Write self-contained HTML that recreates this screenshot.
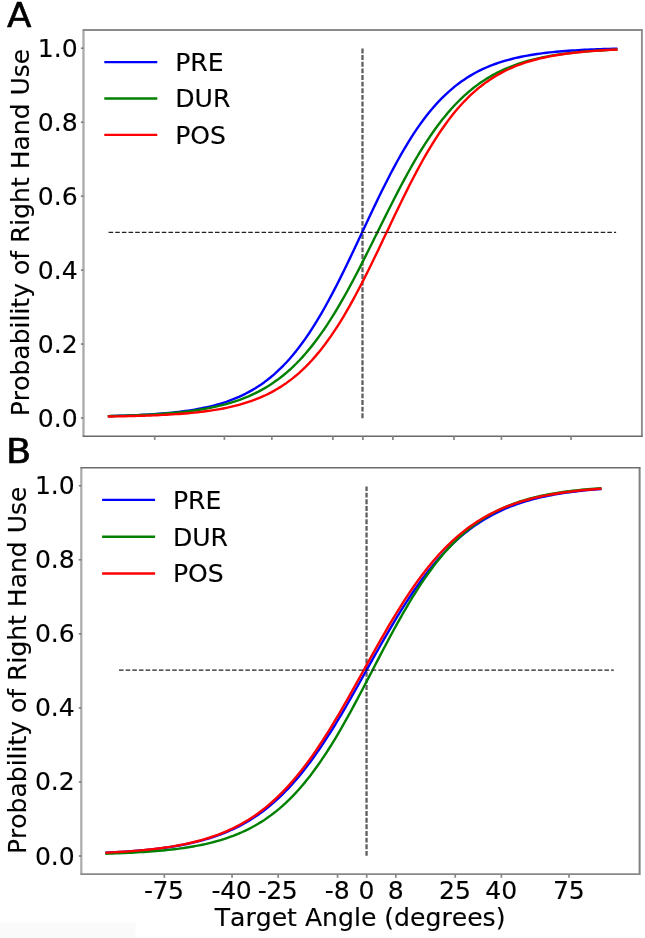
<!DOCTYPE html>
<html lang="en"><head><meta charset="utf-8"><title>Probability of Right Hand Use</title>
<style>
html,body{margin:0;padding:0;background:#fff;}
body{width:645px;height:938px;overflow:hidden;}
svg{display:block;}
.t{filter:grayscale(1);}
svg text{font-family:'DejaVu Sans','Liberation Sans',sans-serif;font-kerning:none;fill:#000;stroke:#000;stroke-width:0.15px;stroke-linejoin:round;}
</style></head><body>
<svg width="645" height="938" viewBox="0 0 645 938">
<rect x="0" y="0" width="645" height="938" fill="#fff"/>
<rect x="0" y="922.5" width="135.5" height="15.5" fill="#fafafa"/>
<line x1="362.50" y1="418.20" x2="362.50" y2="48.60" stroke="#5e5e5e" stroke-width="2.3" stroke-dasharray="4.9 1.733"/>
<polyline points="109.00,416.08 112.17,416.00 115.34,415.92 118.51,415.82 121.68,415.72 124.85,415.62 128.02,415.50 131.19,415.37 134.37,415.24 137.54,415.10 140.71,414.94 143.88,414.77 147.05,414.60 150.22,414.40 153.39,414.20 156.56,413.97 159.73,413.73 162.90,413.48 166.07,413.20 169.24,412.90 172.41,412.59 175.58,412.24 178.75,411.88 181.92,411.48 185.09,411.06 188.27,410.60 191.44,410.11 194.61,409.59 197.78,409.03 200.95,408.43 204.12,407.78 207.29,407.09 210.46,406.35 213.63,405.55 216.80,404.70 219.97,403.79 223.14,402.81 226.31,401.77 229.48,400.65 232.65,399.46 235.82,398.18 239.00,396.82 242.17,395.36 245.34,393.81 248.51,392.16 251.68,390.40 254.85,388.52 258.02,386.53 261.19,384.41 264.36,382.16 267.53,379.77 270.70,377.23 273.87,374.55 277.04,371.71 280.21,368.71 283.38,365.54 286.55,362.21 289.73,358.69 292.90,355.00 296.07,351.12 299.24,347.05 302.41,342.80 305.58,338.35 308.75,333.72 311.92,328.89 315.09,323.88 318.26,318.68 321.43,313.30 324.60,307.75 327.77,302.03 330.94,296.14 334.11,290.11 337.28,283.94 340.46,277.64 343.63,271.22 346.80,264.71 349.97,258.11 353.14,251.45 356.31,244.73 359.48,237.98 362.65,231.22 365.82,224.46 368.99,217.72 372.16,211.02 375.33,204.38 378.50,197.81 381.67,191.33 384.84,184.95 388.01,178.69 391.19,172.57 394.36,166.59 397.53,160.76 400.70,155.09 403.87,149.60 407.04,144.28 410.21,139.15 413.38,134.20 416.55,129.44 419.72,124.87 422.89,120.49 426.06,116.31 429.23,112.31 432.40,108.49 435.57,104.86 438.75,101.41 441.92,98.13 445.09,95.02 448.26,92.08 451.43,89.30 454.60,86.67 457.77,84.18 460.94,81.84 464.11,79.64 467.28,77.56 470.45,75.61 473.62,73.77 476.79,72.05 479.96,70.43 483.13,68.92 486.30,67.50 489.47,66.16 492.65,64.92 495.82,63.75 498.99,62.66 502.16,61.64 505.33,60.69 508.50,59.80 511.67,58.97 514.84,58.19 518.01,57.47 521.18,56.79 524.35,56.16 527.52,55.57 530.69,55.02 533.86,54.51 537.03,54.04 540.20,53.59 543.38,53.18 546.55,52.79 549.72,52.43 552.89,52.10 556.06,51.79 559.23,51.50 562.40,51.23 565.57,50.98 568.74,50.75 571.91,50.53 575.08,50.33 578.25,50.14 581.42,49.97 584.59,49.80 587.76,49.65 590.93,49.51 594.11,49.38 597.28,49.26 600.45,49.15 603.62,49.04 606.79,48.94 609.96,48.85 613.13,48.77 616.30,48.69" fill="none" stroke="#0000ff" stroke-width="2.40" stroke-linecap="square" stroke-linejoin="round"/>
<polyline points="109.00,416.11 112.17,416.03 115.34,415.95 118.51,415.87 121.68,415.78 124.85,415.68 128.02,415.57 131.19,415.46 134.37,415.34 137.54,415.21 140.71,415.07 143.88,414.92 147.05,414.77 150.22,414.60 153.39,414.41 156.56,414.22 159.73,414.01 162.90,413.79 166.07,413.55 169.24,413.29 172.41,413.02 175.58,412.72 178.75,412.41 181.92,412.08 185.09,411.72 188.27,411.33 191.44,410.92 194.61,410.48 197.78,410.01 200.95,409.51 204.12,408.98 207.29,408.40 210.46,407.79 213.63,407.14 216.80,406.44 219.97,405.69 223.14,404.90 226.31,404.05 229.48,403.14 232.65,402.18 235.82,401.15 239.00,400.06 242.17,398.89 245.34,397.65 248.51,396.33 251.68,394.92 254.85,393.43 258.02,391.84 261.19,390.16 264.36,388.37 267.53,386.48 270.70,384.47 273.87,382.34 277.04,380.09 280.21,377.72 283.38,375.21 286.55,372.56 289.73,369.77 292.90,366.83 296.07,363.74 299.24,360.49 302.41,357.09 305.58,353.52 308.75,349.78 311.92,345.88 315.09,341.81 318.26,337.56 321.43,333.15 324.60,328.56 327.77,323.81 330.94,318.89 334.11,313.81 337.28,308.57 340.46,303.18 343.63,297.64 346.80,291.97 349.97,286.17 353.14,280.25 356.31,274.22 359.48,268.10 362.65,261.89 365.82,255.62 368.99,249.29 372.16,242.92 375.33,236.53 378.50,230.12 381.67,223.72 384.84,217.35 388.01,211.00 391.19,204.71 394.36,198.49 397.53,192.34 400.70,186.28 403.87,180.33 407.04,174.50 410.21,168.78 413.38,163.21 416.55,157.77 419.72,152.49 422.89,147.36 426.06,142.40 429.23,137.59 432.40,132.96 435.57,128.50 438.75,124.20 441.92,120.08 445.09,116.13 448.26,112.34 451.43,108.73 454.60,105.27 457.77,101.98 460.94,98.85 464.11,95.86 467.28,93.03 470.45,90.34 473.62,87.79 476.79,85.38 479.96,83.09 483.13,80.93 486.30,78.89 489.47,76.97 492.65,75.15 495.82,73.43 498.99,71.82 502.16,70.30 505.33,68.87 508.50,67.53 511.67,66.26 514.84,65.07 518.01,63.96 521.18,62.91 524.35,61.93 527.52,61.01 530.69,60.14 533.86,59.33 537.03,58.57 540.20,57.86 543.38,57.19 546.55,56.57 549.72,55.99 552.89,55.44 556.06,54.93 559.23,54.45 562.40,54.00 565.57,53.58 568.74,53.19 571.91,52.83 575.08,52.48 578.25,52.16 581.42,51.86 584.59,51.59 587.76,51.32 590.93,51.08 594.11,50.85 597.28,50.64 600.45,50.44 603.62,50.26 606.79,50.08 609.96,49.92 613.13,49.77 616.30,49.63" fill="none" stroke="#008000" stroke-width="2.40" stroke-linecap="square" stroke-linejoin="round"/>
<polyline points="109.00,416.49 112.17,416.44 115.34,416.39 118.51,416.33 121.68,416.27 124.85,416.21 128.02,416.14 131.19,416.06 134.37,415.98 137.54,415.89 140.71,415.80 143.88,415.70 147.05,415.59 150.22,415.47 153.39,415.35 156.56,415.21 159.73,415.07 162.90,414.91 166.07,414.75 169.24,414.57 172.41,414.38 175.58,414.17 178.75,413.95 181.92,413.71 185.09,413.45 188.27,413.18 191.44,412.89 194.61,412.57 197.78,412.23 200.95,411.87 204.12,411.48 207.29,411.06 210.46,410.61 213.63,410.13 216.80,409.61 219.97,409.06 223.14,408.47 226.31,407.83 229.48,407.16 232.65,406.43 235.82,405.65 239.00,404.82 242.17,403.92 245.34,402.97 248.51,401.95 251.68,400.86 254.85,399.70 258.02,398.46 261.19,397.13 264.36,395.72 267.53,394.21 270.70,392.60 273.87,390.89 277.04,389.07 280.21,387.14 283.38,385.08 286.55,382.90 289.73,380.59 292.90,378.14 296.07,375.54 299.24,372.80 302.41,369.90 305.58,366.84 308.75,363.61 311.92,360.21 315.09,356.64 318.26,352.90 321.43,348.97 324.60,344.86 327.77,340.56 330.94,336.08 334.11,331.41 337.28,326.56 340.46,321.52 343.63,316.31 346.80,310.92 349.97,305.37 353.14,299.65 356.31,293.78 359.48,287.77 362.65,281.63 365.82,275.37 368.99,269.00 372.16,262.54 375.33,256.00 378.50,249.40 381.67,242.76 384.84,236.10 388.01,229.42 391.19,222.75 394.36,216.10 397.53,209.50 400.70,202.96 403.87,196.49 407.04,190.11 410.21,183.83 413.38,177.68 416.55,171.65 419.72,165.77 422.89,160.04 426.06,154.46 429.23,149.06 432.40,143.83 435.57,138.77 438.75,133.90 441.92,129.21 445.09,124.71 448.26,120.39 451.43,116.26 454.60,112.31 457.77,108.55 460.94,104.96 464.11,101.54 467.28,98.30 470.45,95.22 473.62,92.31 476.79,89.54 479.96,86.93 483.13,84.47 486.30,82.14 489.47,79.94 492.65,77.87 495.82,75.93 498.99,74.10 502.16,72.38 505.33,70.76 508.50,69.24 511.67,67.82 514.84,66.48 518.01,65.23 521.18,64.06 524.35,62.96 527.52,61.94 530.69,60.98 533.86,60.08 537.03,59.24 540.20,58.45 543.38,57.72 546.55,57.04 549.72,56.40 552.89,55.80 556.06,55.24 559.23,54.72 562.40,54.24 565.57,53.79 568.74,53.37 571.91,52.97 575.08,52.61 578.25,52.27 581.42,51.95 584.59,51.65 587.76,51.37 590.93,51.12 594.11,50.88 597.28,50.65 600.45,50.45 603.62,50.25 606.79,50.07 609.96,49.90 613.13,49.75 616.30,49.60" fill="none" stroke="#ff0000" stroke-width="2.40" stroke-linecap="square" stroke-linejoin="round"/>
<line x1="108.60" y1="232.40" x2="616.10" y2="232.40" stroke="#222" stroke-width="1.35" stroke-dasharray="4.55 2.1"/>
<line x1="83.50" y1="29.40" x2="83.50" y2="436.80" stroke="#aaaaaa" stroke-width="2.30"/>
<line x1="641.90" y1="29.40" x2="641.90" y2="436.80" stroke="#8c8c8c" stroke-width="1.90"/>
<line x1="82.80" y1="30.00" x2="642.60" y2="30.00" stroke="#8c8c8c" stroke-width="1.90"/>
<line x1="82.80" y1="436.20" x2="642.60" y2="436.20" stroke="#686868" stroke-width="1.35"/>
<line x1="154.74" y1="436.20" x2="154.74" y2="439.90" stroke="#858585" stroke-width="1.7"/>
<line x1="224.38" y1="436.20" x2="224.38" y2="439.90" stroke="#858585" stroke-width="1.7"/>
<line x1="271.83" y1="436.20" x2="271.83" y2="439.90" stroke="#858585" stroke-width="1.7"/>
<line x1="332.91" y1="436.20" x2="332.91" y2="439.90" stroke="#858585" stroke-width="1.7"/>
<line x1="362.90" y1="436.20" x2="362.90" y2="439.90" stroke="#858585" stroke-width="1.7"/>
<line x1="392.89" y1="436.20" x2="392.89" y2="439.90" stroke="#858585" stroke-width="1.7"/>
<line x1="453.97" y1="436.20" x2="453.97" y2="439.90" stroke="#858585" stroke-width="1.7"/>
<line x1="501.42" y1="436.20" x2="501.42" y2="439.90" stroke="#858585" stroke-width="1.7"/>
<line x1="571.06" y1="436.20" x2="571.06" y2="439.90" stroke="#858585" stroke-width="1.7"/>
<line x1="80.90" y1="418.00" x2="83.50" y2="418.00" stroke="#707070" stroke-width="1.4"/>
<line x1="80.90" y1="344.04" x2="83.50" y2="344.04" stroke="#707070" stroke-width="1.4"/>
<line x1="80.90" y1="270.08" x2="83.50" y2="270.08" stroke="#707070" stroke-width="1.4"/>
<line x1="80.90" y1="196.12" x2="83.50" y2="196.12" stroke="#707070" stroke-width="1.4"/>
<line x1="80.90" y1="122.16" x2="83.50" y2="122.16" stroke="#707070" stroke-width="1.4"/>
<line x1="80.90" y1="48.20" x2="83.50" y2="48.20" stroke="#707070" stroke-width="1.4"/>
<line x1="105.50" y1="62.10" x2="156.10" y2="62.10" stroke="#0000ff" stroke-width="2.40" stroke-linecap="square"/>
<line x1="105.50" y1="98.50" x2="156.10" y2="98.50" stroke="#008000" stroke-width="2.40" stroke-linecap="square"/>
<line x1="105.50" y1="134.90" x2="156.10" y2="134.90" stroke="#ff0000" stroke-width="2.40" stroke-linecap="square"/>
<line x1="366.55" y1="855.80" x2="366.55" y2="486.60" stroke="#5e5e5e" stroke-width="2.3" stroke-dasharray="4.9 1.733"/>
<polyline points="106.60,852.70 109.69,852.55 112.77,852.40 115.86,852.23 118.94,852.06 122.03,851.87 125.11,851.68 128.20,851.47 131.28,851.25 134.37,851.01 137.46,850.76 140.54,850.50 143.63,850.22 146.71,849.92 149.80,849.61 152.88,849.28 155.97,848.93 159.06,848.55 162.14,848.16 165.23,847.74 168.31,847.29 171.40,846.83 174.48,846.33 177.57,845.80 180.65,845.24 183.74,844.66 186.83,844.03 189.91,843.37 193.00,842.67 196.08,841.94 199.17,841.16 202.25,840.33 205.34,839.46 208.43,838.54 211.51,837.57 214.60,836.55 217.68,835.47 220.77,834.33 223.85,833.12 226.94,831.86 230.02,830.52 233.11,829.11 236.20,827.63 239.28,826.08 242.37,824.44 245.45,822.72 248.54,820.91 251.62,819.01 254.71,817.02 257.80,814.93 260.88,812.74 263.97,810.44 267.05,808.04 270.14,805.54 273.22,802.92 276.31,800.18 279.39,797.33 282.48,794.36 285.57,791.26 288.65,788.05 291.74,784.71 294.82,781.24 297.91,777.64 300.99,773.92 304.08,770.07 307.17,766.10 310.25,762.00 313.34,757.78 316.42,753.43 319.51,748.97 322.59,744.39 325.68,739.71 328.76,734.91 331.85,730.01 334.94,725.02 338.02,719.94 341.11,714.78 344.19,709.54 347.28,704.23 350.36,698.87 353.45,693.45 356.54,688.00 359.62,682.51 362.71,677.00 365.79,671.48 368.88,665.96 371.96,660.44 375.05,654.94 378.13,649.47 381.22,644.03 384.31,638.64 387.39,633.30 390.48,628.03 393.56,622.83 396.65,617.70 399.73,612.67 402.82,607.72 405.91,602.88 408.99,598.13 412.08,593.50 415.16,588.98 418.25,584.58 421.33,580.29 424.42,576.13 427.50,572.09 430.59,568.18 433.68,564.40 436.76,560.74 439.85,557.21 442.93,553.81 446.02,550.53 449.10,547.37 452.19,544.34 455.28,541.43 458.36,538.63 461.45,535.96 464.53,533.39 467.62,530.94 470.70,528.60 473.79,526.35 476.88,524.22 479.96,522.18 483.05,520.23 486.13,518.38 489.22,516.61 492.30,514.93 495.39,513.33 498.47,511.82 501.56,510.37 504.65,509.00 507.73,507.70 510.82,506.47 513.90,505.29 516.99,504.18 520.07,503.13 523.16,502.13 526.25,501.19 529.33,500.30 532.42,499.45 535.50,498.65 538.59,497.89 541.67,497.17 544.76,496.49 547.84,495.85 550.93,495.25 554.02,494.67 557.10,494.13 560.19,493.62 563.27,493.14 566.36,492.68 569.44,492.25 572.53,491.84 575.62,491.46 578.70,491.10 581.79,490.75 584.87,490.43 587.96,490.13 591.04,489.84 594.13,489.57 597.21,489.31 600.30,489.07" fill="none" stroke="#0000ff" stroke-width="2.40" stroke-linecap="square" stroke-linejoin="round"/>
<polyline points="106.60,853.65 109.69,853.55 112.77,853.45 115.86,853.34 118.94,853.22 122.03,853.10 125.11,852.97 128.20,852.83 131.28,852.68 134.37,852.52 137.46,852.35 140.54,852.17 143.63,851.97 146.71,851.77 149.80,851.55 152.88,851.32 155.97,851.07 159.06,850.80 162.14,850.52 165.23,850.22 168.31,849.90 171.40,849.56 174.48,849.20 177.57,848.82 180.65,848.41 183.74,847.97 186.83,847.51 189.91,847.02 193.00,846.49 196.08,845.94 199.17,845.34 202.25,844.71 205.34,844.05 208.43,843.34 211.51,842.58 214.60,841.78 217.68,840.93 220.77,840.03 223.85,839.07 226.94,838.06 230.02,836.98 233.11,835.85 236.20,834.64 239.28,833.36 242.37,832.01 245.45,830.58 248.54,829.07 251.62,827.47 254.71,825.78 257.80,824.00 260.88,822.12 263.97,820.14 267.05,818.05 270.14,815.85 273.22,813.54 276.31,811.11 279.39,808.56 282.48,805.89 285.57,803.08 288.65,800.14 291.74,797.07 294.82,793.86 297.91,790.50 300.99,787.01 304.08,783.36 307.17,779.58 310.25,775.64 313.34,771.56 316.42,767.33 319.51,762.96 322.59,758.44 325.68,753.79 328.76,748.99 331.85,744.07 334.94,739.01 338.02,733.84 341.11,728.54 344.19,723.14 347.28,717.64 350.36,712.05 353.45,706.37 356.54,700.62 359.62,694.81 362.71,688.96 365.79,683.06 368.88,677.14 371.96,671.20 375.05,665.26 378.13,659.33 381.22,653.42 384.31,647.54 387.39,641.72 390.48,635.94 393.56,630.24 396.65,624.62 399.73,619.08 402.82,613.64 405.91,608.31 408.99,603.09 412.08,597.98 415.16,593.01 418.25,588.17 421.33,583.46 424.42,578.89 427.50,574.47 430.59,570.18 433.68,566.05 436.76,562.06 439.85,558.22 442.93,554.52 446.02,550.97 449.10,547.57 452.19,544.30 455.28,541.18 458.36,538.19 461.45,535.33 464.53,532.61 467.62,530.01 470.70,527.54 473.79,525.19 476.88,522.95 479.96,520.82 483.05,518.80 486.13,516.88 489.22,515.07 492.30,513.34 495.39,511.71 498.47,510.17 501.56,508.71 504.65,507.33 507.73,506.02 510.82,504.79 513.90,503.63 516.99,502.53 520.07,501.49 523.16,500.52 526.25,499.59 529.33,498.73 532.42,497.91 535.50,497.14 538.59,496.41 541.67,495.73 544.76,495.08 547.84,494.48 550.93,493.91 554.02,493.37 557.10,492.87 560.19,492.40 563.27,491.95 566.36,491.53 569.44,491.14 572.53,490.77 575.62,490.42 578.70,490.09 581.79,489.79 584.87,489.50 587.96,489.23 591.04,488.97 594.13,488.74 597.21,488.51 600.30,488.30" fill="none" stroke="#008000" stroke-width="2.40" stroke-linecap="square" stroke-linejoin="round"/>
<polyline points="106.60,852.65 109.69,852.50 112.77,852.34 115.86,852.17 118.94,851.99 122.03,851.80 125.11,851.60 128.20,851.39 131.28,851.16 134.37,850.92 137.46,850.66 140.54,850.39 143.63,850.10 146.71,849.79 149.80,849.47 152.88,849.13 155.97,848.76 159.06,848.38 162.14,847.97 165.23,847.54 168.31,847.08 171.40,846.59 174.48,846.08 177.57,845.53 180.65,844.96 183.74,844.34 186.83,843.70 189.91,843.02 193.00,842.29 196.08,841.53 199.17,840.72 202.25,839.86 205.34,838.96 208.43,838.01 211.51,837.00 214.60,835.93 217.68,834.81 220.77,833.63 223.85,832.38 226.94,831.06 230.02,829.67 233.11,828.21 236.20,826.67 239.28,825.05 242.37,823.35 245.45,821.56 248.54,819.68 251.62,817.71 254.71,815.64 257.80,813.47 260.88,811.19 263.97,808.81 267.05,806.32 270.14,803.72 273.22,801.00 276.31,798.16 279.39,795.20 282.48,792.12 285.57,788.91 288.65,785.58 291.74,782.12 294.82,778.54 297.91,774.82 300.99,770.98 304.08,767.00 307.17,762.90 310.25,758.68 313.34,754.33 316.42,749.86 319.51,745.27 322.59,740.57 325.68,735.76 328.76,730.85 331.85,725.84 334.94,720.73 338.02,715.55 341.11,710.28 344.19,704.95 347.28,699.55 350.36,694.11 353.45,688.62 356.54,683.10 359.62,677.55 362.71,671.99 365.79,666.43 368.88,660.87 371.96,655.33 375.05,649.82 378.13,644.34 381.22,638.91 384.31,633.54 387.39,628.22 390.48,622.98 393.56,617.82 396.65,612.75 399.73,607.77 402.82,602.89 405.91,598.11 408.99,593.45 412.08,588.90 415.16,584.47 418.25,580.16 421.33,575.97 424.42,571.91 427.50,567.98 430.59,564.18 433.68,560.50 436.76,556.95 439.85,553.54 442.93,550.24 446.02,547.08 449.10,544.04 452.19,541.12 455.28,538.32 458.36,535.64 461.45,533.07 464.53,530.61 467.62,528.27 470.70,526.03 473.79,523.89 476.88,521.85 479.96,519.91 483.05,518.06 486.13,516.29 489.22,514.62 492.30,513.03 495.39,511.51 498.47,510.07 501.56,508.71 504.65,507.41 507.73,506.19 510.82,505.02 513.90,503.92 516.99,502.87 520.07,501.88 523.16,500.94 526.25,500.06 529.33,499.22 532.42,498.42 535.50,497.67 538.59,496.96 541.67,496.29 544.76,495.66 547.84,495.06 550.93,494.49 554.02,493.95 557.10,493.45 560.19,492.97 563.27,492.52 566.36,492.10 569.44,491.70 572.53,491.32 575.62,490.96 578.70,490.62 581.79,490.31 584.87,490.01 587.96,489.72 591.04,489.46 594.13,489.21 597.21,488.97 600.30,488.74" fill="none" stroke="#ff0000" stroke-width="2.40" stroke-linecap="square" stroke-linejoin="round"/>
<line x1="119.00" y1="670.10" x2="613.75" y2="670.10" stroke="#222" stroke-width="1.35" stroke-dasharray="4.55 2.1"/>
<line x1="81.30" y1="467.20" x2="81.30" y2="874.70" stroke="#aaaaaa" stroke-width="2.20"/>
<line x1="639.60" y1="467.20" x2="639.60" y2="874.70" stroke="#808080" stroke-width="2.00"/>
<line x1="80.60" y1="467.80" x2="640.30" y2="467.80" stroke="#6c6c6c" stroke-width="1.60"/>
<line x1="80.60" y1="874.10" x2="640.30" y2="874.10" stroke="#888888" stroke-width="1.90"/>
<line x1="164.34" y1="874.10" x2="164.34" y2="877.80" stroke="#858585" stroke-width="1.7"/>
<line x1="232.04" y1="874.10" x2="232.04" y2="877.80" stroke="#858585" stroke-width="1.7"/>
<line x1="278.16" y1="874.10" x2="278.16" y2="877.80" stroke="#858585" stroke-width="1.7"/>
<line x1="337.54" y1="874.10" x2="337.54" y2="877.80" stroke="#858585" stroke-width="1.7"/>
<line x1="366.70" y1="874.10" x2="366.70" y2="877.80" stroke="#858585" stroke-width="1.7"/>
<line x1="395.86" y1="874.10" x2="395.86" y2="877.80" stroke="#858585" stroke-width="1.7"/>
<line x1="455.24" y1="874.10" x2="455.24" y2="877.80" stroke="#858585" stroke-width="1.7"/>
<line x1="501.36" y1="874.10" x2="501.36" y2="877.80" stroke="#858585" stroke-width="1.7"/>
<line x1="569.06" y1="874.10" x2="569.06" y2="877.80" stroke="#858585" stroke-width="1.7"/>
<line x1="78.70" y1="856.00" x2="81.30" y2="856.00" stroke="#707070" stroke-width="1.4"/>
<line x1="78.70" y1="781.96" x2="81.30" y2="781.96" stroke="#707070" stroke-width="1.4"/>
<line x1="78.70" y1="707.92" x2="81.30" y2="707.92" stroke="#707070" stroke-width="1.4"/>
<line x1="78.70" y1="633.88" x2="81.30" y2="633.88" stroke="#707070" stroke-width="1.4"/>
<line x1="78.70" y1="559.84" x2="81.30" y2="559.84" stroke="#707070" stroke-width="1.4"/>
<line x1="78.70" y1="485.80" x2="81.30" y2="485.80" stroke="#707070" stroke-width="1.4"/>
<line x1="103.30" y1="499.90" x2="153.90" y2="499.90" stroke="#0000ff" stroke-width="2.40" stroke-linecap="square"/>
<line x1="103.30" y1="536.70" x2="153.90" y2="536.70" stroke="#008000" stroke-width="2.40" stroke-linecap="square"/>
<line x1="103.30" y1="573.50" x2="153.90" y2="573.50" stroke="#ff0000" stroke-width="2.40" stroke-linecap="square"/>
<g class="t">
<text x="77.70" y="426.50" text-anchor="end" font-size="25.10">0.0</text>
<text x="77.70" y="352.54" text-anchor="end" font-size="25.10">0.2</text>
<text x="77.70" y="278.58" text-anchor="end" font-size="25.10">0.4</text>
<text x="77.70" y="204.62" text-anchor="end" font-size="25.10">0.6</text>
<text x="77.70" y="130.66" text-anchor="end" font-size="25.10">0.8</text>
<text x="77.70" y="56.70" text-anchor="end" font-size="25.10">1.0</text>
<text transform="translate(28.50 232.50) rotate(-90)" text-anchor="middle" font-size="25.00">Probability of Right Hand Use</text>
<text x="175.20" y="71.00" font-size="25.10">PRE</text>
<text x="175.20" y="107.40" font-size="25.10">DUR</text>
<text x="175.20" y="143.80" font-size="25.10">POS</text>
<text x="163.74" y="898.70" text-anchor="middle" font-size="25.10" letter-spacing="-0.45">-75</text>
<text x="231.44" y="898.70" text-anchor="middle" font-size="25.10" letter-spacing="-0.45">-40</text>
<text x="277.56" y="898.70" text-anchor="middle" font-size="25.10" letter-spacing="-0.45">-25</text>
<text x="337.34" y="898.70" text-anchor="middle" font-size="25.10">-8</text>
<text x="366.50" y="898.70" text-anchor="middle" font-size="25.10">0</text>
<text x="395.66" y="898.70" text-anchor="middle" font-size="25.10">8</text>
<text x="455.04" y="898.70" text-anchor="middle" font-size="25.10">25</text>
<text x="501.16" y="898.70" text-anchor="middle" font-size="25.10">40</text>
<text x="568.86" y="898.70" text-anchor="middle" font-size="25.10">75</text>
<text x="74.80" y="864.50" text-anchor="end" font-size="25.10">0.0</text>
<text x="74.80" y="790.46" text-anchor="end" font-size="25.10">0.2</text>
<text x="74.80" y="716.42" text-anchor="end" font-size="25.10">0.4</text>
<text x="74.80" y="642.38" text-anchor="end" font-size="25.10">0.6</text>
<text x="74.80" y="568.34" text-anchor="end" font-size="25.10">0.8</text>
<text x="74.80" y="494.30" text-anchor="end" font-size="25.10">1.0</text>
<text transform="translate(26.30 670.35) rotate(-90)" text-anchor="middle" font-size="25.00">Probability of Right Hand Use</text>
<text x="172.90" y="508.80" font-size="25.10">PRE</text>
<text x="172.90" y="545.60" font-size="25.10">DUR</text>
<text x="172.90" y="582.40" font-size="25.10">POS</text>
<text x="360.10" y="926.40" text-anchor="middle" font-size="25.10">Target Angle (degrees)</text>
<text transform="translate(7.1 26.8) scale(1.04 1)" font-size="34.4" font-family="'Liberation Sans','DejaVu Sans',sans-serif" style="stroke-width:0.6px">A</text>
<text transform="translate(5.9 463) scale(1.07 1)" font-size="34.4" font-family="'Liberation Sans','DejaVu Sans',sans-serif" style="stroke-width:0.6px">B</text>
</g>
</svg>
</body></html>
